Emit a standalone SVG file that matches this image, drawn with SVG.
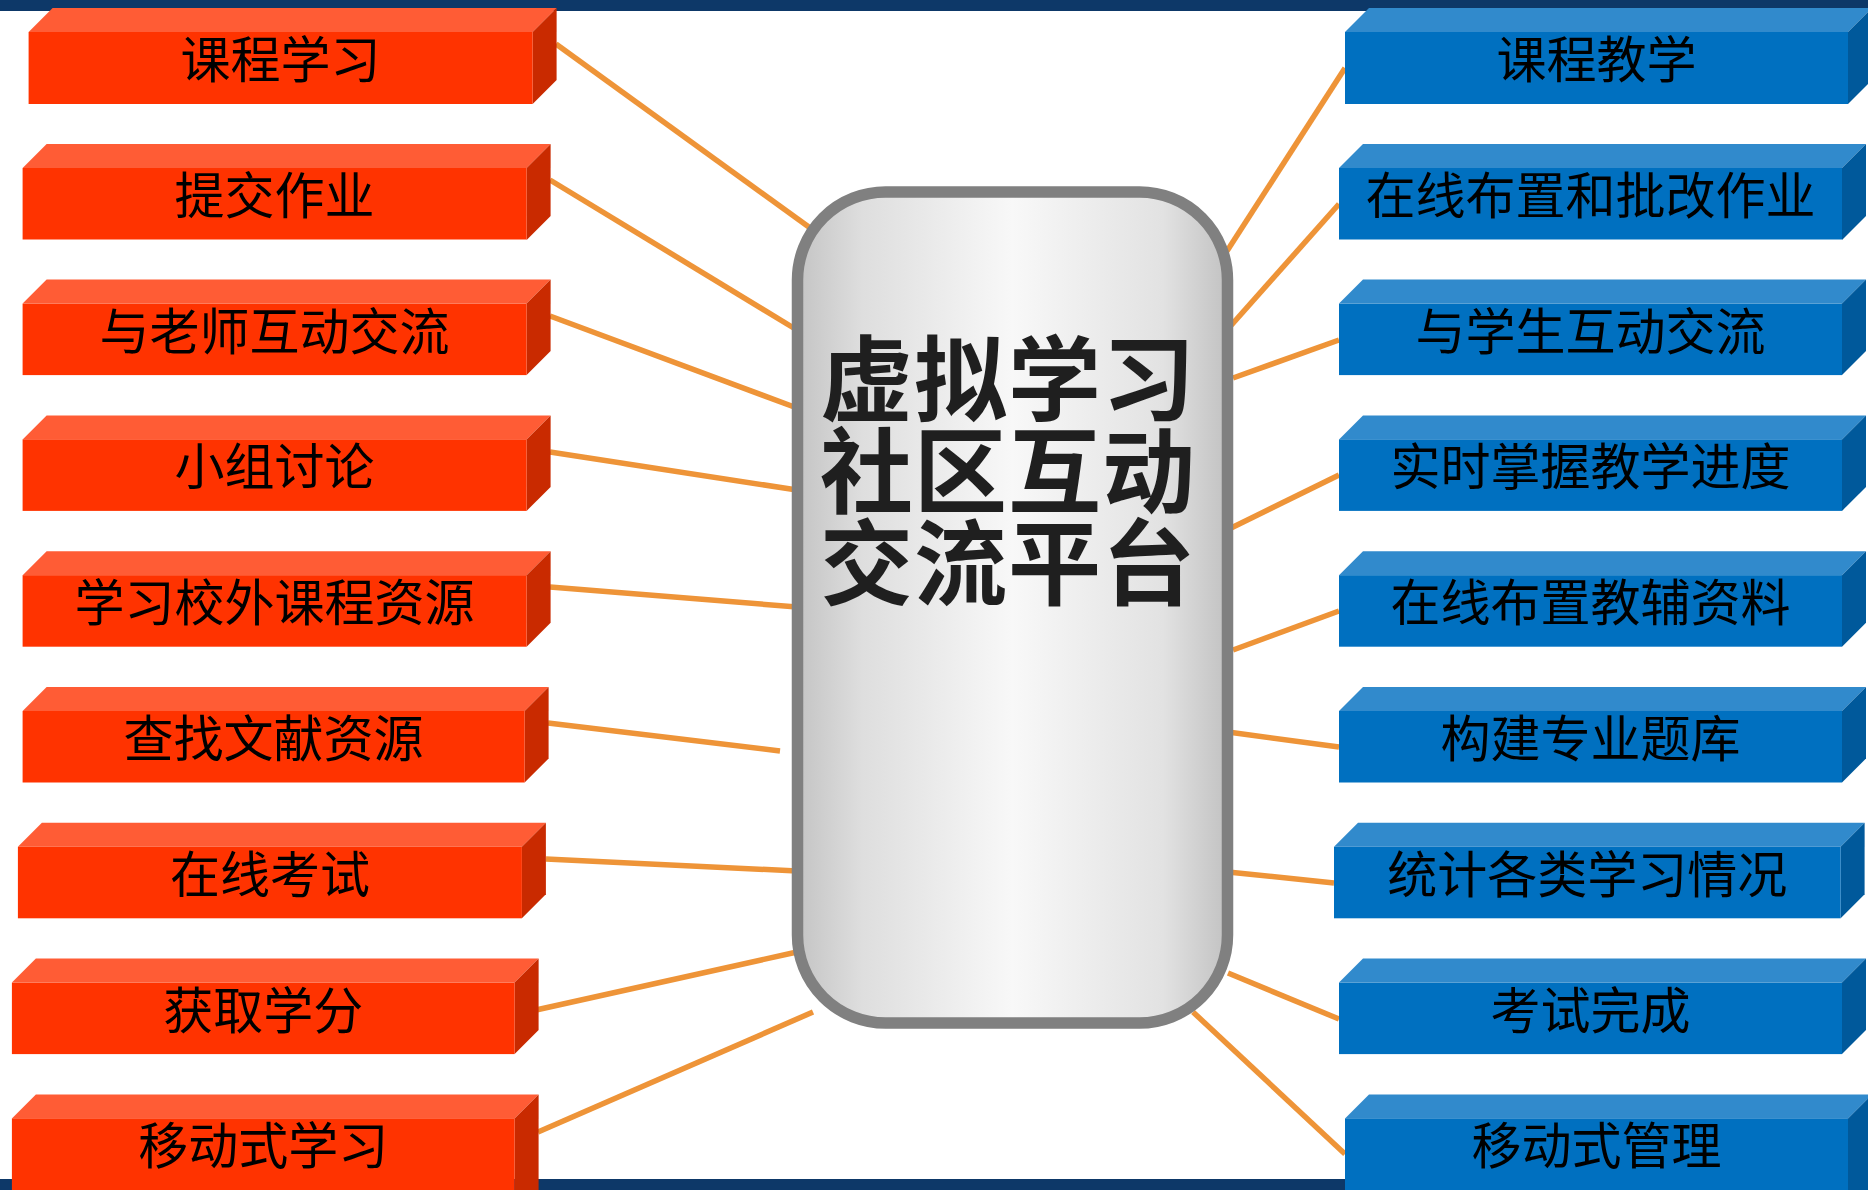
<svg xmlns="http://www.w3.org/2000/svg" width="1868" height="1190" viewBox="0 0 1868 1190">
<defs>
<linearGradient id="cg" x1="0" y1="0" x2="1" y2="0">
<stop offset="0" stop-color="#c4c4c4"/>
<stop offset="0.15" stop-color="#dedede"/>
<stop offset="0.5" stop-color="#f8f8f8"/>
<stop offset="0.85" stop-color="#e2e2e2"/>
<stop offset="1" stop-color="#c2c2c2"/>
</linearGradient>
<style>
.band{fill:#0d3868}
.rf{fill:#ff3300}.rt{fill:#ff5c35}.rs{fill:#c92a00}
.bf{fill:#0070c0}.bt{fill:#318acc}.bs{fill:#00599b}
.lbl{font-family:"Noto Sans CJK SC","Noto Sans",sans-serif;font-size:50px;fill:#000;text-anchor:middle}
.ctr{font-family:"Noto Sans CJK SC","Noto Sans",sans-serif;font-size:93px;font-weight:bold;fill:#1f1f1f;text-anchor:middle;letter-spacing:1px}
.conn line{stroke:#ee9438;stroke-width:5.5;fill:none}
</style>
</defs>
<rect width="1868" height="1190" fill="#ffffff"/>
<rect class="band" x="0" y="0" width="1868" height="11"/>
<rect class="band" x="0" y="1179" width="1868" height="11"/>

<g id="connectors" class="conn">
<line x1="556" y1="44" x2="813" y2="230"/>
<line x1="550" y1="180" x2="797" y2="330"/>
<line x1="550" y1="316" x2="797" y2="408"/>
<line x1="550" y1="452" x2="797" y2="490"/>
<line x1="550" y1="587" x2="797" y2="607"/>
<line x1="548" y1="723" x2="780" y2="751"/>
<line x1="546" y1="859" x2="797" y2="871"/>
<line x1="536" y1="1010" x2="797" y2="952"/>
<line x1="538" y1="1132" x2="813" y2="1012"/>
<line x1="1345" y1="68" x2="1227" y2="251"/>
<line x1="1339" y1="204" x2="1227" y2="330"/>
<line x1="1339" y1="340" x2="1233" y2="378"/>
<line x1="1339" y1="475" x2="1227" y2="530"/>
<line x1="1339" y1="611" x2="1233" y2="650"/>
<line x1="1339" y1="747" x2="1228" y2="732"/>
<line x1="1334" y1="883" x2="1228" y2="872"/>
<line x1="1339" y1="1019" x2="1228" y2="973"/>
<line x1="1345" y1="1154" x2="1193" y2="1012"/>
</g>

<g id="center">
<rect x="797.5" y="192" width="430" height="831" rx="88" ry="88" fill="url(#cg)" stroke="#808080" stroke-width="11.5"/>
<text class="ctr"><tspan x="1008" y="414">虚拟学习</tspan><tspan x="1008" y="506">社区互动</tspan><tspan x="1008" y="598">交流平台</tspan></text>
</g>

<g id="L1"><polygon class="rt" points="28.6,32 52.6,8 556.6,8 532.6,32"/><polygon class="rs" points="532.6,32 556.6,8 556.6,80 532.6,104"/><rect class="rf" x="28.6" y="32" width="504" height="72"/><text class="lbl" x="280.6" y="78">课程学习</text></g>
<g id="L2"><polygon class="rt" points="22.6,168 46.6,144 550.6,144 526.6,168"/><polygon class="rs" points="526.6,168 550.6,144 550.6,216 526.6,240"/><rect class="rf" x="22.6" y="168" width="504" height="71.5"/><text class="lbl" x="274.6" y="214">提交作业</text></g>
<g id="L3"><polygon class="rt" points="22.6,303.6 46.6,279.6 550.6,279.6 526.6,303.6"/><polygon class="rs" points="526.6,303.6 550.6,279.6 550.6,351.1 526.6,375.1"/><rect class="rf" x="22.6" y="303.6" width="504" height="71.5"/><text class="lbl" x="274.6" y="349.6">与老师互动交流</text></g>
<g id="L4"><polygon class="rt" points="22.6,439.4 46.6,415.4 550.6,415.4 526.6,439.4"/><polygon class="rs" points="526.6,439.4 550.6,415.4 550.6,486.9 526.6,510.9"/><rect class="rf" x="22.6" y="439.4" width="504" height="71.5"/><text class="lbl" x="274.6" y="485.4">小组讨论</text></g>
<g id="L5"><polygon class="rt" points="22.6,575.2 46.6,551.2 550.6,551.2 526.6,575.2"/><polygon class="rs" points="526.6,575.2 550.6,551.2 550.6,622.7 526.6,646.7"/><rect class="rf" x="22.6" y="575.2" width="504" height="71.5"/><text class="lbl" x="274.6" y="621.2">学习校外课程资源</text></g>
<g id="L6"><polygon class="rt" points="22.6,711 46.6,687 548.6,687 524.6,711"/><polygon class="rs" points="524.6,711 548.6,687 548.6,758.5 524.6,782.5"/><rect class="rf" x="22.6" y="711" width="502" height="71.5"/><text class="lbl" x="273.6" y="757">查找文献资源</text></g>
<g id="L7"><polygon class="rt" points="17.9,846.8 41.9,822.8 545.9,822.8 521.9,846.8"/><polygon class="rs" points="521.9,846.8 545.9,822.8 545.9,894.3 521.9,918.3"/><rect class="rf" x="17.9" y="846.8" width="504" height="71.5"/><text class="lbl" x="269.9" y="892.8">在线考试</text></g>
<g id="L8"><polygon class="rt" points="11.9,982.6 35.9,958.6 538.6,958.6 514.6,982.6"/><polygon class="rs" points="514.6,982.6 538.6,958.6 538.6,1030.1 514.6,1054.1"/><rect class="rf" x="11.9" y="982.6" width="502.7" height="71.5"/><text class="lbl" x="263.2" y="1028.6">获取学分</text></g>
<g id="L9"><polygon class="rt" points="11.9,1118.4 35.9,1094.4 538.6,1094.4 514.6,1118.4"/><polygon class="rs" points="514.6,1118.4 538.6,1094.4 538.6,1190 514.6,1190"/><rect class="rf" x="11.9" y="1118.4" width="502.7" height="71.6"/><text class="lbl" x="263.2" y="1164.4">移动式学习</text></g>

<g id="R1"><polygon class="bt" points="1345,32 1369,8 1872,8 1848,32"/><polygon class="bs" points="1848,32 1872,8 1872,80 1848,104"/><rect class="bf" x="1345" y="32" width="503" height="72"/><text class="lbl" x="1596.5" y="78">课程教学</text></g>
<g id="R2"><polygon class="bt" points="1339,168 1363,144 1866,144 1842,168"/><polygon class="bs" points="1842,168 1866,144 1866,216 1842,240"/><rect class="bf" x="1339" y="168" width="503" height="71.5"/><text class="lbl" x="1590.5" y="214">在线布置和批改作业</text></g>
<g id="R3"><polygon class="bt" points="1339,303.6 1363,279.6 1866,279.6 1842,303.6"/><polygon class="bs" points="1842,303.6 1866,279.6 1866,351.1 1842,375.1"/><rect class="bf" x="1339" y="303.6" width="503" height="71.5"/><text class="lbl" x="1590.5" y="349.6">与学生互动交流</text></g>
<g id="R4"><polygon class="bt" points="1339,439.4 1363,415.4 1866,415.4 1842,439.4"/><polygon class="bs" points="1842,439.4 1866,415.4 1866,486.9 1842,510.9"/><rect class="bf" x="1339" y="439.4" width="503" height="71.5"/><text class="lbl" x="1590.5" y="485.4">实时掌握教学进度</text></g>
<g id="R5"><polygon class="bt" points="1339,575.2 1363,551.2 1866,551.2 1842,575.2"/><polygon class="bs" points="1842,575.2 1866,551.2 1866,622.7 1842,646.7"/><rect class="bf" x="1339" y="575.2" width="503" height="71.5"/><text class="lbl" x="1590.5" y="621.2">在线布置教辅资料</text></g>
<g id="R6"><polygon class="bt" points="1339,711 1363,687 1866,687 1842,711"/><polygon class="bs" points="1842,711 1866,687 1866,758.5 1842,782.5"/><rect class="bf" x="1339" y="711" width="503" height="71.5"/><text class="lbl" x="1590.5" y="757">构建专业题库</text></g>
<g id="R7"><polygon class="bt" points="1334,846.8 1358,822.8 1864.6,822.8 1840.6,846.8"/><polygon class="bs" points="1840.6,846.8 1864.6,822.8 1864.6,894.3 1840.6,918.3"/><rect class="bf" x="1334" y="846.8" width="506.6" height="71.5"/><text class="lbl" x="1587.3" y="892.8">统计各类学习情况</text></g>
<g id="R8"><polygon class="bt" points="1339,982.6 1363,958.6 1866,958.6 1842,982.6"/><polygon class="bs" points="1842,982.6 1866,958.6 1866,1030.1 1842,1054.1"/><rect class="bf" x="1339" y="982.6" width="503" height="71.5"/><text class="lbl" x="1590.5" y="1028.6">考试完成</text></g>
<g id="R9"><polygon class="bt" points="1345,1118.4 1369,1094.4 1872,1094.4 1848,1118.4"/><polygon class="bs" points="1848,1118.4 1872,1094.4 1872,1190 1848,1190"/><rect class="bf" x="1345" y="1118.4" width="503" height="71.6"/><text class="lbl" x="1596.5" y="1164.4">移动式管理</text></g>
</svg>
